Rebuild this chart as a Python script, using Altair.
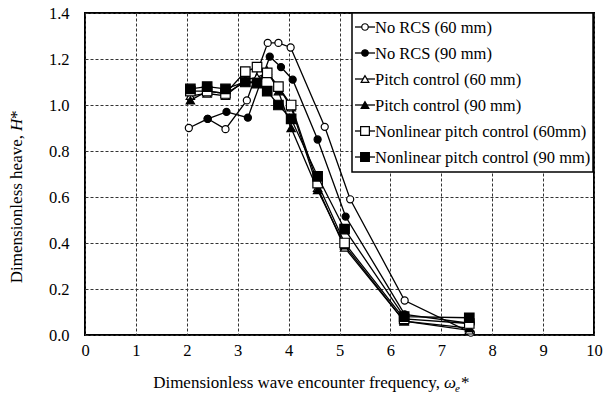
import altair as alt
import pandas as pd

FONT = "Liberation Serif"

names = [
    "No RCS (60 mm)",
    "No RCS (90 mm)",
    "Pitch control (60 mm)",
    "Pitch control (90 mm)",
    "Nonlinear pitch control (60mm)",
    "Nonlinear pitch control (90 mm)",
]

x_norcs60 = [2.04, 2.41, 2.76, 3.18, 3.59, 3.80, 4.04, 4.71, 5.21, 6.28, 7.58]
y_norcs60 = [0.90, 0.94, 0.895, 1.02, 1.27, 1.27, 1.25, 0.905, 0.59, 0.15, 0.01]

x_norcs90 = [2.41, 2.78, 3.20, 3.63, 3.85, 4.08, 4.57, 5.12, 6.28, 7.58]
y_norcs90 = [0.94, 0.97, 0.945, 1.21, 1.165, 1.11, 0.85, 0.515, 0.09, 0.05]

x_ctrl = [2.07, 2.40, 2.76, 3.15, 3.38, 3.58, 3.80, 4.05, 4.57, 5.10, 6.27, 7.55]
y_pc60 = [1.04, 1.05, 1.04, 1.11, 1.12, 1.14, 1.08, 0.99, 0.64, 0.38, 0.06, 0.02]
y_pc90 = [1.02, 1.06, 1.05, 1.10, 1.10, 1.15, 1.06, 0.90, 0.63, 0.39, 0.06, 0.03]
y_nl60 = [1.06, 1.06, 1.05, 1.145, 1.165, 1.14, 1.08, 1.00, 0.66, 0.40, 0.07, 0.05]
y_nl90 = [1.07, 1.08, 1.07, 1.10, 1.095, 1.06, 1.00, 0.94, 0.69, 0.46, 0.08, 0.075]

series_x = [x_norcs60, x_norcs90, x_ctrl, x_ctrl, x_ctrl, x_ctrl]
series_y = [y_norcs60, y_norcs90, y_pc60, y_pc90, y_nl60, y_nl90]

x_ticks = list(range(0, 11))
y_ticks = [0.0, 0.2, 0.4, 0.6, 0.8, 1.0, 1.2, 1.4]

shapes = ["circle", "circle", "triangle-up", "triangle-up", "square", "square"]
fills = ["white", "black", "white", "black", "white", "black"]
sizes = [50, 50, 70, 70, 90, 90]

xenc = alt.X("x:Q", scale=alt.Scale(domain=[0, 10], nice=False),
             axis=alt.Axis(values=x_ticks, title=None, labelFlush=False, ticks=False,
                           domain=False, labelPadding=7, grid=True,
                           labelFont=FONT, labelFontSize=16.5))
yenc = alt.Y("y:Q", scale=alt.Scale(domain=[0, 1.4], nice=False),
             axis=alt.Axis(values=y_ticks, format=".1f", title=None, ticks=False,
                           domain=False, labelPadding=16, grid=True,
                           labelFont=FONT, labelFontSize=16.5))

layers = []
for name, xs, ys, shp, fl, sz in zip(names, series_x, series_y, shapes, fills, sizes):
    d = pd.DataFrame({"x": xs, "y": ys, "series": name})
    layers.append(alt.Chart(d).mark_line(color="black", strokeWidth=1.3).encode(x=xenc, y=yenc))
    layers.append(alt.Chart(d).mark_point(shape=shp, size=sz, filled=True, fill=fl, stroke="black",
                                          strokeWidth=1.2, opacity=1).encode(x=xenc, y=yenc))

# legend box
layers.append(alt.Chart(pd.DataFrame({"a": [0]})).mark_rect(fill="white", stroke="black", strokeWidth=1.5)
              .encode(x=alt.value(267), x2=alt.value(508), y=alt.value(0), y2=alt.value(159)))
for i, (name, shp, fl, sz) in enumerate(zip(names, shapes, fills, sizes)):
    yy = 14 + 26 * i
    ld = pd.DataFrame({"name": [name]})
    layers.append(alt.Chart(ld).mark_rule(color="black", strokeWidth=1.3)
                  .encode(x=alt.value(270), x2=alt.value(290), y=alt.value(yy)))
    layers.append(alt.Chart(ld).mark_point(shape=shp, size=sz * 0.85, filled=True, fill=fl, stroke="black",
                                           strokeWidth=1.2, opacity=1)
                  .encode(x=alt.value(280), y=alt.value(yy)))
    layers.append(alt.Chart(ld).mark_text(align="left", baseline="middle", font=FONT, fontSize=16.5, color="black")
                  .encode(x=alt.value(290), y=alt.value(yy + 1), text="name:N"))

# x axis title
TS = 17
tdf = pd.DataFrame({"t": ["Dimensionless wave encounter frequency,"]})
layers.append(alt.Chart(tdf).mark_text(align="right", baseline="alphabetic", font=FONT, fontSize=TS, color="black")
              .encode(x=alt.value(355), y=alt.value(375), text="t:N"))
layers.append(alt.Chart(pd.DataFrame({"t": ["ω"]})).mark_text(align="left", baseline="alphabetic", font=FONT,
              fontSize=TS, fontStyle="italic", color="black")
              .encode(x=alt.value(359), y=alt.value(375), text="t:N"))
layers.append(alt.Chart(pd.DataFrame({"t": ["e"]})).mark_text(align="left", baseline="alphabetic", font=FONT,
              fontSize=11, fontStyle="italic", color="black")
              .encode(x=alt.value(370), y=alt.value(379), text="t:N"))
layers.append(alt.Chart(pd.DataFrame({"t": ["*"]})).mark_text(align="left", baseline="alphabetic", font=FONT,
              fontSize=TS, color="black")
              .encode(x=alt.value(376), y=alt.value(375), text="t:N"))

# y axis title (rotated)
layers.append(alt.Chart(pd.DataFrame({"t": ["Dimensionless heave,"]})).mark_text(
              align="right", baseline="middle", angle=270, font=FONT, fontSize=TS, color="black")
              .encode(x=alt.value(-68), y=alt.value(122), text="t:N"))
layers.append(alt.Chart(pd.DataFrame({"t": ["H"]})).mark_text(
              align="left", baseline="middle", angle=270, font=FONT, fontSize=TS, fontStyle="italic", color="black")
              .encode(x=alt.value(-68), y=alt.value(118), text="t:N"))
layers.append(alt.Chart(pd.DataFrame({"t": ["*"]})).mark_text(
              align="left", baseline="middle", angle=270, font=FONT, fontSize=TS, color="black")
              .encode(x=alt.value(-68), y=alt.value(106), text="t:N"))

chart = alt.layer(*layers).properties(
    width=509, height=322,
    autosize=alt.AutoSizeParams(type="none"),
    padding={"left": 85, "top": 13, "right": 12, "bottom": 68},
).configure(
    font=FONT
).configure_view(
    stroke="black", strokeWidth=2
).configure_axis(
    gridDash=[3, 2], gridColor="#333333", gridWidth=1, gridOpacity=1,
    labelFont=FONT, labelFontSize=16.5, labelColor="black"
)

chart.save("out.html", embed_options={"renderer": "svg", "actions": False})
